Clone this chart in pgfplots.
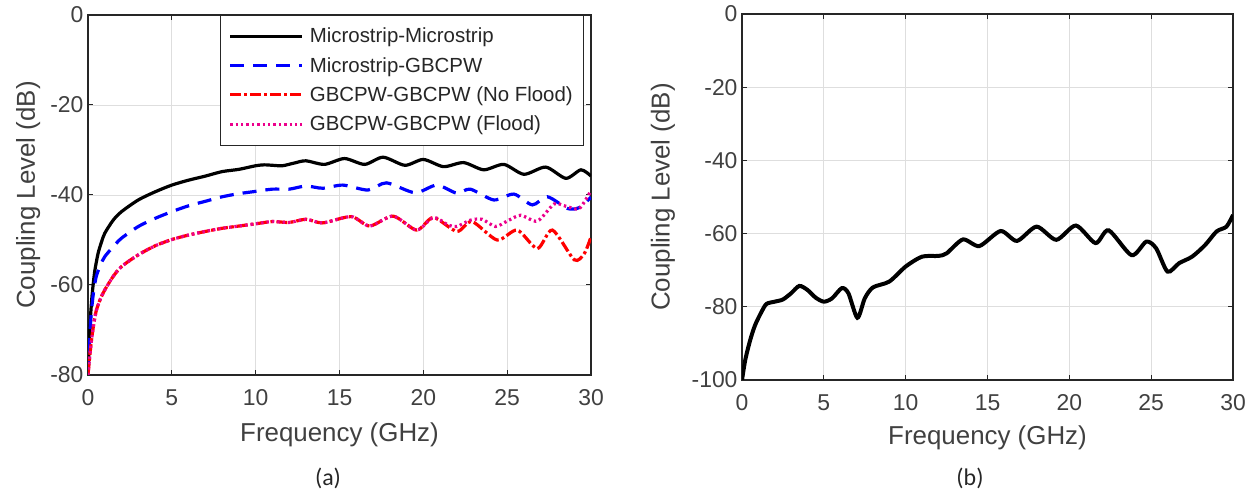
\documentclass[border=0pt]{standalone}
\usepackage{pgfplots}
\pgfplotsset{compat=1.18}
\usepackage{fontspec}
\setmainfont{Liberation Sans}
\newfontfamily\capfont{Carlito}
\definecolor{axgray}{RGB}{38,38,38}
\definecolor{txtgray}{RGB}{64,64,64}
\definecolor{gridgray}{RGB}{222,222,222}

\pgfplotsset{
  mat/.style={
    scale only axis,
    xmin=0, xmax=30,
    xtick={0,5,10,15,20,25,30},
    xticklabels={0,5,10,15,20,25,30},
    grid=major,
    major grid style={gridgray, line width=0.8bp},
    axis line style={axgray, line width=1.2bp},
    tick style={axgray, line width=1bp},
    tick align=inside,
    major tick length=5bp,
    xtick pos=both, ytick pos=both,
    tick label style={font=\fontsize{23}{26}\selectfont, text=txtgray},
    xticklabel style={yshift=-11bp},
    yticklabel style={xshift=-1bp},
    label style={font=\fontsize{26}{30}\selectfont, text=txtgray},
    xlabel={Frequency (GHz)},
    ylabel={Coupling Level (dB)},
  }
}

\begin{document}
\begin{tikzpicture}[x=1bp,y=1bp]
\path[use as bounding box] (0,0) rectangle (1253,492);

% ---------- (a) ----------
\begin{axis}[mat,
  at={(88bp,117bp)}, anchor=south west,
  width=503bp, height=360bp,
  ymin=-80, ymax=0,
  ytick={-80,-60,-40,-20,0},
  yticklabels={-80,-60,-40,-20,0},
  xlabel style={at={(axis description cs:0.5,-0.167)}, anchor=center},
  ylabel style={at={(axis description cs:-0.119,0.5)}, anchor=center},
  legend style={at={(axis description cs:0.984,1)}, anchor=north east,
    draw=axgray, fill=white,
    font=\fontsize{20.5}{23}\selectfont, text=axgray,
    inner xsep=8bp, inner ysep=11bp, row sep=9bp, column sep=4bp,
    legend cell align=left},
  legend image code/.code={\draw[#1] (0bp,0bp) -- (72bp,0bp);},
]
\addplot[black, line width=3.2bp, smooth, tension=0.45] coordinates {
(0,-80) (0.08,-72) (0.15,-67) (0.25,-62) (0.4,-57) (0.6,-53) (0.8,-50.5) (1,-48.5)
(1.5,-45.6) (2,-43.7) (3,-41.1) (4,-39.3) (5,-37.8) (6,-36.7) (7,-35.8) (8,-34.8)
(9,-34.3) (10,-33.5) (10.5,-33.3) (11,-33.4) (11.6,-33.5) (12.3,-32.9) (13,-32.4)
(14.1,-33.2) (15.3,-31.9) (16.5,-33.2) (17.6,-31.6) (18.9,-33.4) (20.0,-32.1)
(21.2,-33.7) (22.4,-32.8) (23.6,-34.4) (24.8,-33.2) (26.0,-35.4) (27.3,-33.8)
(28.5,-36.3) (29.4,-34.4) (30,-35.8)
};
\addlegendentry{Microstrip-Microstrip}
\addplot[blue, line width=3.2bp, dash pattern=on 14bp off 9bp, smooth, tension=0.45] coordinates {
(0,-80) (0.1,-72) (0.2,-66) (0.35,-61) (0.5,-58) (0.75,-55.5) (1,-53.7) (1.5,-51.5)
(2,-49.6) (3,-47) (4,-45.2) (5,-43.7) (6,-42.4) (7,-41.4) (8,-40.4) (9,-39.7)
(10,-39.2) (11,-38.7) (12,-38.7) (13,-38.0) (14,-38.5) (15.2,-37.8) (16.7,-38.9)
(17.8,-37.3) (19.5,-39.5) (20.8,-37.8) (22.0,-39.6) (22.8,-38.7) (24.2,-41.1)
(25.4,-39.8) (26.5,-42.2) (27.4,-40.4) (28.6,-43.0) (29.3,-42.8) (30,-40.5)
};
\addlegendentry{Microstrip-GBCPW}
\addplot[red, line width=3.2bp, dash pattern=on 11bp off 3bp on 3bp off 3bp, smooth, tension=0.45] coordinates {
(0,-80) (0.1,-76) (0.2,-72.5) (0.35,-68.5) (0.5,-65.6) (0.75,-63) (1,-61.1) (1.5,-58.1)
(2,-55.9) (3,-53.3) (4,-51.3) (5,-49.9) (6,-48.9) (7,-48.1) (8,-47.4) (9,-46.9)
(10,-46.4) (11,-45.9) (12,-46.1) (13,-45.4) (14,-46.2) (15.7,-44.8) (16.8,-46.9)
(18.2,-44.7) (19.6,-47.8) (20.6,-45.0) (22.0,-48.1) (22.9,-45.9) (24.4,-50.0)
(25.6,-47.8) (26.8,-51.9) (27.7,-47.8) (29.0,-54.4) (29.6,-53.0) (30,-49.3)
};
\addlegendentry{GBCPW-GBCPW (No Flood)}
\addplot[magenta, line width=3.2bp, dash pattern=on 2.4bp off 3bp, smooth, tension=0.45] coordinates {
(0,-80) (0.1,-76) (0.2,-72.5) (0.35,-68.5) (0.5,-65.6) (0.75,-63) (1,-61.1) (1.5,-58.1)
(2,-55.9) (3,-53.3) (4,-51.3) (5,-49.9) (6,-48.9) (7,-48.1) (8,-47.4) (9,-46.9)
(10,-46.4) (11,-45.9) (12,-46.1) (13,-45.4) (14,-46.2) (15.7,-44.8) (16.8,-46.9)
(18.2,-44.7) (19.6,-47.8) (20.6,-45.0) (21.5,-46.7) (22.0,-47.0) (22.8,-45.6)
(23.5,-45.4) (24.3,-47.0) (25.0,-45.8) (25.8,-44.5) (26.8,-45.8) (27.8,-42.0)
(28.5,-42.5) (29.3,-43.0) (30,-39)
};
\addlegendentry{GBCPW-GBCPW (Flood)}
\end{axis}

% ---------- (b) ----------
\begin{axis}[mat,
  at={(742bp,112bp)}, anchor=south west,
  width=491bp, height=366bp,
  ymin=-100, ymax=0,
  ytick={-100,-80,-60,-40,-20,0},
  yticklabels={-100,-80,-60,-40,-20,0},
  xlabel style={at={(axis description cs:0.5,-0.158)}, anchor=center},
  ylabel style={at={(axis description cs:-0.161,0.5)}, anchor=center},
]
\addplot[black, line width=4bp, smooth, tension=0.45] coordinates {
(0,-100) (0.2,-94.5) (0.5,-89.1) (0.8,-85) (1.2,-81.3) (1.5,-79.2) (2,-78.6)
(2.5,-78) (3,-76.3) (3.5,-74.3) (4,-75.4) (4.5,-77.5) (5,-78.6) (5.5,-77.7)
(6.1,-74.9) (6.5,-76.3) (7.05,-83) (7.5,-77.7) (8,-74.7) (9,-73.1) (10,-69)
(11,-66.3) (12,-66.1) (12.5,-65.4) (13.5,-61.6) (14.5,-63.4) (15.8,-59.3)
(16.8,-62) (18,-58.1) (19.2,-61.7) (20.4,-57.8) (21.6,-62.6) (22.4,-59.1)
(23.8,-65.9) (24.7,-62.2) (25.3,-64) (26,-70.4) (26.7,-68.1) (27.5,-66.3)
(28.3,-63.1) (29,-59.4) (29.6,-58.1) (30,-54.9)
};
\end{axis}

\node[font=\capfont\fontsize{24}{28}\selectfont, text=axgray] at (328,14) {(a)};
\node[font=\capfont\fontsize{24}{28}\selectfont, text=axgray] at (970,14) {(b)};
\end{tikzpicture}
\end{document}
